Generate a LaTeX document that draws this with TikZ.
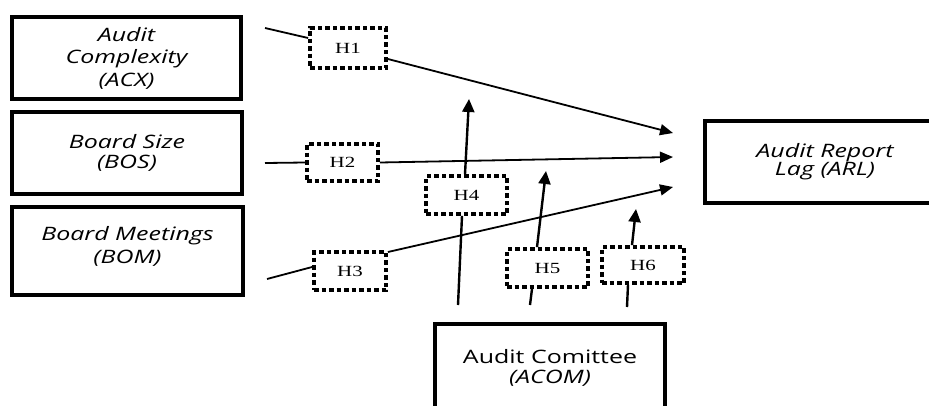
\documentclass[tikz,border=0pt]{standalone}
\usepackage{fontspec}
\newfontfamily\labfont[FakeStretch=1.35]{Open Sans}
\newfontfamily\hfont[FakeStretch=1.35]{Liberation Serif}
\usetikzlibrary{arrows.meta}
\begin{document}
\begin{tikzpicture}[x=1pt,y=-1pt,
  varbox/.style={draw,line width=4pt,inner sep=0pt,align=center,
    font=\labfont\itshape\fontsize{18.5}{22.5}\selectfont},
  hbox/.style={draw,line width=3.8pt,dash pattern=on 4.5pt off 3pt,inner sep=0pt,
    font=\hfont\fontsize{15.5}{17}\selectfont},
  link/.style={line width=1.8pt},
  vlink/.style={line width=2.4pt},
  arr/.style={line width=1.8pt,-{Triangle[length=13pt,width=11pt]}},
  varr/.style={line width=2.4pt,-{Triangle[length=13pt,width=12pt]}}]
\useasboundingbox (0,0) rectangle (929,405);
% variable boxes
\node[varbox,minimum width=229pt,minimum height=82pt] (acx) at (126.5,58)
  {Audit\\Complexity\\(ACX)};
\node[varbox,minimum width=230pt,minimum height=82pt,
  font=\labfont\itshape\fontsize{18.5}{20.5}\selectfont] (bos) at (127,153)
  {Board Size\\(BOS)};
\node[varbox,minimum width=231pt,minimum height=88pt] (bom) at (127.5,251) {};
\node[font=\labfont\itshape\fontsize{18.5}{23}\selectfont,align=center,inner sep=0pt]
  (bomt) at (127.5,246.5) {Board Meetings\\(BOM)};
\node[varbox,minimum width=240pt,minimum height=82pt,
  font=\labfont\itshape\fontsize{18.5}{18}\selectfont] (arl) at (825,162)
  {Audit Report\\Lag (ARL)};
\node[varbox,minimum width=230pt,minimum height=88pt,
  font=\labfont\fontsize{18.5}{20}\selectfont] (acom) at (550,368)
  {Audit Comittee\\\itshape(ACOM)};
% hypothesis boxes
\node[hbox,minimum width=76pt,minimum height=40pt] (h1) at (348,48) {H1};
\node[hbox,minimum width=71pt,minimum height=37pt] (h2) at (342.5,162.5) {H2};
\node[hbox,minimum width=72pt,minimum height=38pt] (h3) at (350,271) {H3};
\node[hbox,minimum width=81pt,minimum height=38pt] (h4) at (466.5,195) {H4};
\node[hbox,minimum width=81pt,minimum height=38pt] (h5) at (547.5,268) {H5};
\node[hbox,minimum width=82pt,minimum height=36pt] (h6) at (643,265) {H6};
% free ends
\coordinate (a1) at (265,28);
\coordinate (a2) at (265,163);
\coordinate (a3) at (267,279);
\coordinate (a4) at (458,305);
\coordinate (a5) at (530,305);
\coordinate (a6) at (627,307);
\coordinate (t1) at (673,133);
\coordinate (t2) at (673,157);
\coordinate (t3) at (673,187);
\coordinate (t4) at (469,99);
\coordinate (t5) at (546,171);
\coordinate (t6) at (636,209);
% connectors
\draw[link] (a1) -- ([yshift=10pt]h1.west);
\draw[arr] ([yshift=-11pt]h1.east) -- (t1);
\draw[link] (a2) -- (h2.west);
\draw[arr] (h2.east) -- (t2);
\draw[link] (a3) -- ([yshift=4pt]h3.west);
\draw[arr] ([yshift=19pt]h3.east) -- (t3);
\draw[vlink] (a4) -- ([xshift=-4.5pt]h4.south);
\draw[varr] ([xshift=-1.5pt]h4.north) -- (t4);
\draw[vlink] (a5) -- ([xshift=-15.5pt]h5.south);
\draw[varr] ([xshift=-10.5pt]h5.north) -- (t5);
\draw[vlink] (a6) -- ([xshift=-15pt]h6.south);
\draw[varr] ([xshift=-11pt]h6.north) -- (t6);
\end{tikzpicture}
\end{document}
